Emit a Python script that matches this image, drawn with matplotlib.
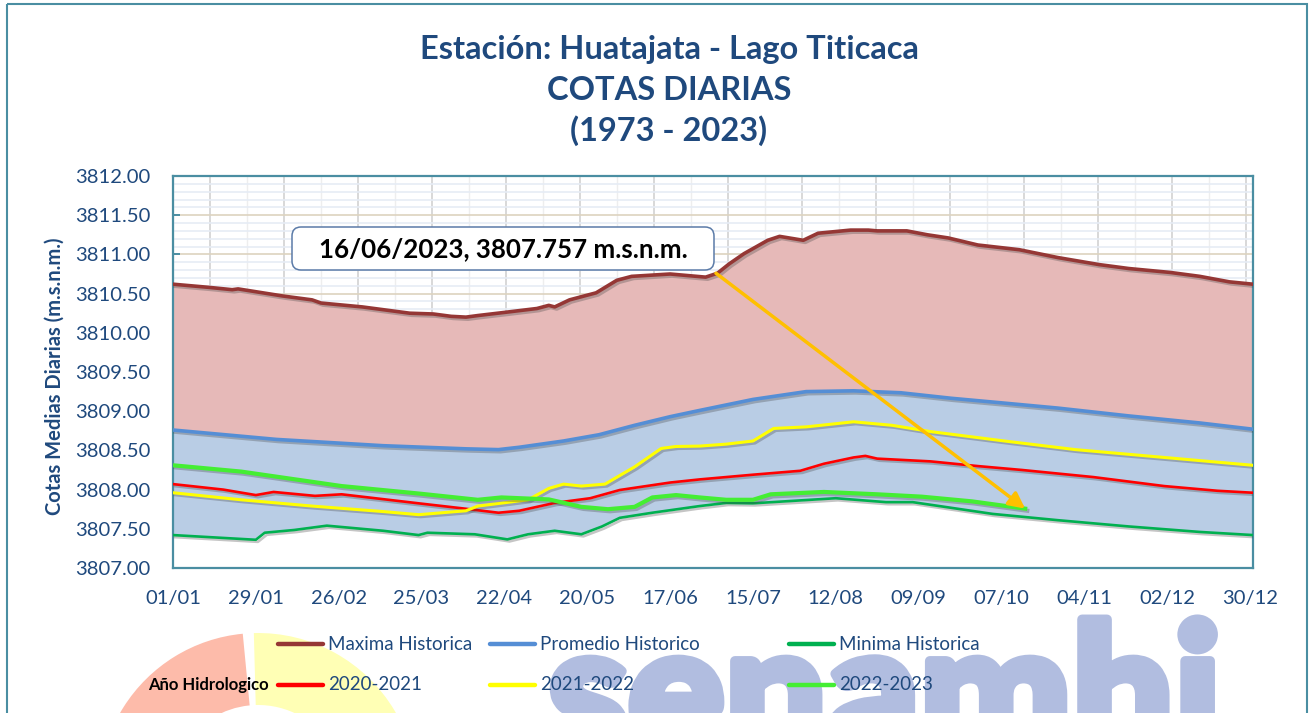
import matplotlib

matplotlib.use("Agg")
import matplotlib.pyplot as plt
import matplotlib.patches as mpatches
import matplotlib.patheffects as pe
import matplotlib.transforms as mtransforms
from matplotlib.lines import Line2D
from matplotlib.ticker import FixedLocator, MultipleLocator, FormatStrFormatter

W_PX, H_PX, DPI = 1316, 713, 100

# day index (0 = 01/01) and level (m.s.n.m.)
MAX_DAY = [0, 12, 20, 22, 37, 47, 50, 64, 80, 88, 94, 99, 103, 112, 123, 127, 129, 134, 143,
           150, 155, 168, 180, 184, 188, 193, 201, 205, 213, 218, 229, 235, 238, 248, 255, 262,
           272, 286, 299, 313, 323, 337, 347, 357, 365]
MAX_VAL = [3810.62, 3810.58, 3810.55, 3810.56, 3810.47, 3810.42, 3810.38, 3810.33, 3810.25,
           3810.24, 3810.21, 3810.20, 3810.22, 3810.26, 3810.31, 3810.35, 3810.33, 3810.42,
           3810.51, 3810.67, 3810.72, 3810.75, 3810.71, 3810.76, 3810.88, 3811.01, 3811.18,
           3811.23, 3811.18, 3811.27, 3811.31, 3811.31, 3811.30, 3811.30, 3811.25, 3811.21,
           3811.12, 3811.06, 3810.96, 3810.87, 3810.82, 3810.77, 3810.72, 3810.65, 3810.62]

PROM_DAY = [0, 35, 71, 99, 110, 117, 132, 144, 156, 168, 178, 187, 196, 214, 230, 246, 263,
            279, 299, 323, 347, 365]
PROM_VAL = [3808.76, 3808.64, 3808.56, 3808.52, 3808.51, 3808.54, 3808.62, 3808.70, 3808.82,
            3808.93, 3809.01, 3809.08, 3809.15, 3809.25, 3809.26, 3809.235, 3809.165, 3809.11,
            3809.04, 3808.94, 3808.85, 3808.77]

MIN_DAY = [0, 28, 31, 41, 52, 71, 83, 86, 102, 113, 120, 129, 138, 145, 151, 162, 178, 187,
           196, 224, 241, 250, 277, 299, 323, 347, 365]
MIN_VAL = [3807.42, 3807.36, 3807.45, 3807.485, 3807.54, 3807.475, 3807.42, 3807.45, 3807.43,
           3807.365, 3807.43, 3807.475, 3807.43, 3807.53, 3807.64, 3807.705, 3807.79, 3807.83,
           3807.825, 3807.89, 3807.84, 3807.84, 3807.69, 3807.61, 3807.53, 3807.46, 3807.42]

Y2021_DAY = [0, 17, 28, 34, 48, 57, 83, 98, 110, 117, 129, 141, 151, 168, 178, 187, 196, 212,
             220, 230, 234, 238, 256, 272, 287, 311, 335, 353, 365]
Y2021_VAL = [3808.07, 3808.00, 3807.93, 3807.97, 3807.92, 3807.94, 3807.825, 3807.76, 3807.705,
             3807.73, 3807.83, 3807.89, 3807.995, 3808.09, 3808.13, 3808.16, 3808.19, 3808.24,
             3808.33, 3808.41, 3808.43, 3808.395, 3808.36, 3808.30, 3808.25, 3808.16, 3808.045,
             3807.985, 3807.96]

Y2022_DAY = [0, 23, 47, 71, 83, 99, 103, 120, 127, 132, 138, 146, 156, 165, 170, 178, 187, 196,
             203, 214, 230, 243, 256, 281, 305, 335, 365]
Y2022_VAL = [3807.96, 3807.87, 3807.79, 3807.72, 3807.68, 3807.73, 3807.79, 3807.87, 3808.015,
             3808.07, 3808.045, 3808.07, 3808.29, 3808.525, 3808.55, 3808.555, 3808.58, 3808.62,
             3808.78, 3808.80, 3808.865, 3808.82, 3808.74, 3808.62, 3808.51, 3808.41, 3808.31]

Y2023_DAY = [0, 23, 57, 83, 103, 111, 127, 138, 147, 156, 162, 170, 178, 187, 196, 202, 220,
             238, 253, 270, 288]
Y2023_VAL = [3808.31, 3808.23, 3808.045, 3807.95, 3807.87, 3807.90, 3807.875, 3807.78, 3807.75,
             3807.78, 3807.90, 3807.93, 3807.90, 3807.87, 3807.87, 3807.94, 3807.97, 3807.94,
             3807.91, 3807.85, 3807.757]

TICK_DAYS = list(range(0, 365, 28))
TICK_LABELS = ["01/01", "29/01", "26/02", "25/03", "22/04", "20/05", "17/06", "15/07",
               "12/08", "09/09", "07/10", "04/11", "02/12", "30/12"]

TITLE_LINES = ["Estación: Huatajata - Lago Titicaca", "COTAS DIARIAS", "(1973 - 2023)"]
NOTE = "16/06/2023, 3807.757 m.s.n.m."

TEAL = "#4A8EA2"
NAVY = "#1F497D"

SERIES = [
    ("Maxima Historica", MAX_DAY, MAX_VAL, "#953735", 2.6),
    ("Promedio Historico", PROM_DAY, PROM_VAL, "#558ED5", 2.6),
    ("Minima Historica", MIN_DAY, MIN_VAL, "#00B050", 1.9),
    ("2020-2021", Y2021_DAY, Y2021_VAL, "#FF0000", 1.9),
    ("2021-2022", Y2022_DAY, Y2022_VAL, "#FFFF00", 2.2),
    ("2022-2023", Y2023_DAY, Y2023_VAL, "#44EE33", 3.0),
]

plt.rcParams["font.family"] = ["Lato", "DejaVu Sans"]

fig = plt.figure(figsize=(W_PX / DPI, H_PX / DPI), dpi=DPI)
# pixel coordinates measured from the top-left corner
top_px = mtransforms.Affine2D().scale(1, -1).translate(0, H_PX)

# outer chart frame
fig.add_artist(mpatches.Rectangle((7, 4), 1300, 730, transform=top_px, fill=False,
                                  edgecolor=TEAL, linewidth=1.5))

# logo watermark at the bottom
fig.add_artist(mpatches.Wedge((258, 792), 159, -200, -95.5, width=72, transform=top_px,
                              facecolor="#FDBBAA", edgecolor="none", zorder=0))
fig.add_artist(mpatches.Wedge((258, 792), 159, -91.5, 30, width=72, transform=top_px,
                              facecolor="#FFFFB5", edgecolor="none", zorder=0))
fig.text(548, 754, "senamhi", transform=top_px, fontsize=130, fontweight="black",
         color="#B1BDE0", ha="left", va="baseline", zorder=0,
         path_effects=[pe.withStroke(linewidth=7, foreground="#B1BDE0")])

for i, line in enumerate(TITLE_LINES):
    fig.text(669, 50 + 40.5 * i, line, transform=top_px, ha="center", va="center",
             fontsize=23.5, fontweight="bold", color=NAVY)

ax = fig.add_axes([173 / W_PX, (H_PX - 568) / H_PX, 1080 / W_PX, 392 / H_PX])
ax.set_xlim(0, 365)
ax.set_ylim(3807, 3812)

# area bands like the stacked Excel areas
ax.fill_between(MAX_DAY, MAX_VAL, 3807, color="#E6B9B8", lw=0, zorder=1)
ax.fill_between(PROM_DAY, PROM_VAL, 3807, color="#B9CDE5", lw=0, zorder=1.1)
ax.fill_between(MIN_DAY, MIN_VAL, 3807, color="white", lw=0, zorder=1.2)

shadow = [pe.SimpleLineShadow(offset=(1.5, -1.5), shadow_color="#404040", alpha=0.3), pe.Normal()]
for label, days, vals, color, lw in SERIES:
    ax.plot(days, vals, color=color, lw=lw, solid_joinstyle="round", zorder=3,
            path_effects=shadow, label=label)

# grid
for d in range(0, 366, 25):
    ax.axvline(d + 12.5, color="#D2D2D2", lw=1.2, zorder=0.5)
    ax.axvline(d, color="#EEEEEE", lw=1.0, zorder=0.5)
ax.yaxis.set_minor_locator(MultipleLocator(0.1))
ax.grid(True, axis="y", which="minor", color="#E6ECF5", lw=1.2, zorder=0.4)
ax.grid(True, axis="y", which="major", color="#DDD3BF", lw=1.2, zorder=0.45)
ax.set_axisbelow(True)

for spine in ax.spines.values():
    spine.set_color(TEAL)
    spine.set_linewidth(1.6)

ax.set_yticks([3807 + 0.5 * k for k in range(11)])
ax.yaxis.set_major_formatter(FormatStrFormatter("%.2f"))
ax.tick_params(axis="y", which="major", direction="in", length=5, width=1.4, color=TEAL,
               labelsize=14.6, labelcolor=NAVY, pad=16)
ax.tick_params(axis="y", which="minor", length=0)

ax.set_xticks(TICK_DAYS)
ax.set_xticklabels(TICK_LABELS)
ax.xaxis.set_minor_locator(FixedLocator(list(range(25, 365, 25))))
ax.tick_params(axis="x", which="major", length=0, labelsize=14.5, labelcolor=NAVY, pad=15.5)
ax.tick_params(axis="x", which="minor", direction="in", length=5, width=1.4, color=TEAL)

ax.set_ylabel("Cotas Medias Diarias (m.s.n.m.)", fontsize=14.5, fontweight="bold", color=NAVY)
ax.yaxis.set_label_coords(-0.1, 0.49)

# callout
end_day, end_val = Y2023_DAY[-1], Y2023_VAL[-1]
ax.annotate("", xy=(end_day, end_val), xytext=(183.5, 3810.76),
            arrowprops=dict(arrowstyle="-|>", color="#FFC000", lw=2.5, mutation_scale=24,
                            shrinkA=0, shrinkB=0), zorder=5)
fig.add_artist(mpatches.FancyBboxPatch((292, 227), 422, 43, transform=top_px,
                                       boxstyle="round,pad=0,rounding_size=9",
                                       facecolor="white", edgecolor="#5B7BA8", lw=1.1, zorder=6))
fig.text(503, 249, NOTE, transform=top_px, ha="center", va="center", fontsize=18.6,
         fontweight="bold", color="black", zorder=7)

# legend, laid out as in the source chart
leg_cols = [278, 490, 789]
leg_rows = [644, 685]
for i, (label, _, _, color, _) in enumerate(SERIES):
    x0 = leg_cols[i % 3]
    y0 = leg_rows[i // 3]
    fig.add_artist(Line2D([x0, x0 + 45], [y0, y0], transform=top_px, color=color, lw=3.2,
                          solid_capstyle="round"))
    fig.text(x0 + 50, y0, label, transform=top_px, ha="left", va="center", fontsize=13.5,
             color=NAVY)
fig.text(148, 685, "Año Hidrologico", transform=top_px, ha="left", va="center", fontsize=12,
         fontweight="bold", color="black")

fig.savefig("out.png", dpi=DPI)
